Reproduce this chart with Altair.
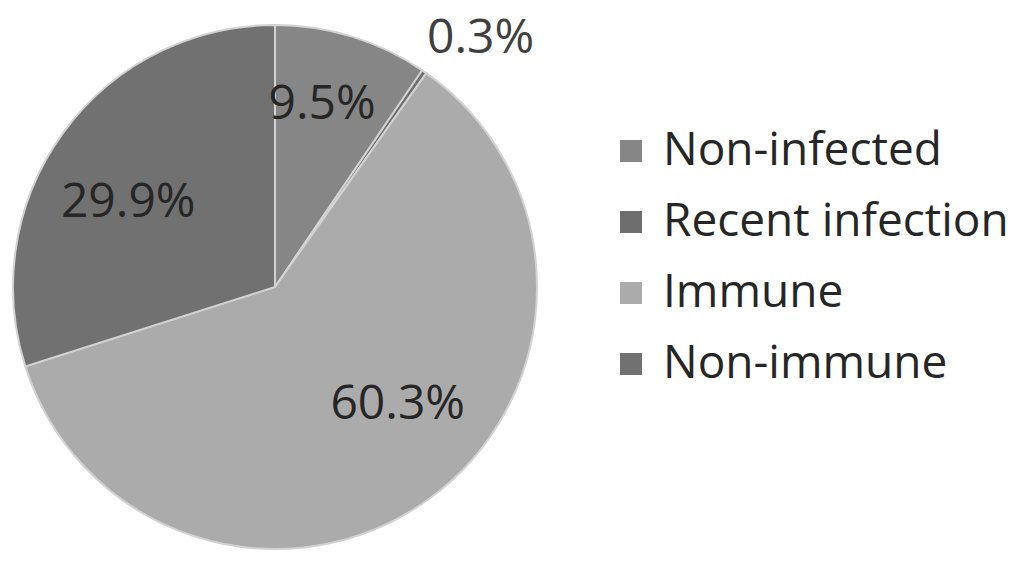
import altair as alt
import pandas as pd

categories = ["Non-infected", "Recent infection", "Immune", "Non-immune"]
values = [9.5, 0.3, 60.3, 29.9]
labels = ["9.5%", "0.3%", "60.3%", "29.9%"]
colors = ["#868686", "#6e6e6e", "#ababab", "#717171"]

df = pd.DataFrame({
    "category": categories,
    "value": values,
    "label": labels,
    "order": list(range(len(categories))),
})

FONT = "Open Sans"
CX, CY, R = 267, 279, 262

base = alt.Chart(df).encode(
    theta=alt.Theta("value:Q", stack=True),
    order=alt.Order("order:Q"),
)

pie = base.mark_arc(
    radius=R, x=CX, y=CY, stroke="#d2d2d2", strokeWidth=2
).encode(
    color=alt.Color(
        "category:N",
        sort=categories,
        scale=alt.Scale(domain=categories, range=colors),
        legend=alt.Legend(
            title=None,
            orient="none",
            legendX=600,
            legendY=120,
            symbolType="square",
            symbolSize=484,
            symbolStrokeWidth=0,
            labelFont=FONT,
            labelFontSize=46,
            labelColor="#262626",
            labelOffset=9,
            rowPadding=25,
            labelLimit=600,
        ),
    )
)


def label_layer(cat, radius, offset, color="#262626"):
    return base.transform_calculate(
        txt=f"datum.category == '{cat}' ? datum.label : ''"
    ).mark_text(
        radius=radius, x=CX, y=CY, font=FONT, fontSize=48, color=color,
        thetaOffset=offset,
    ).encode(text="txt:N")


layers = [
    pie,
    label_layer("Non-infected", 188, -0.045),
    label_layer("Non-immune", 169, -0.113),
    label_layer("Immune", 170, -0.175),
    label_layer("Recent infection", 322, 0.086, "#404040"),
]

chart = alt.layer(*layers).properties(
    width=1008,
    height=548,
    autosize=alt.AutoSizeParams(type="none"),
    padding=0,
).configure_view(stroke=None)

chart.save("out.html", embed_options={"renderer": "svg", "actions": False})
